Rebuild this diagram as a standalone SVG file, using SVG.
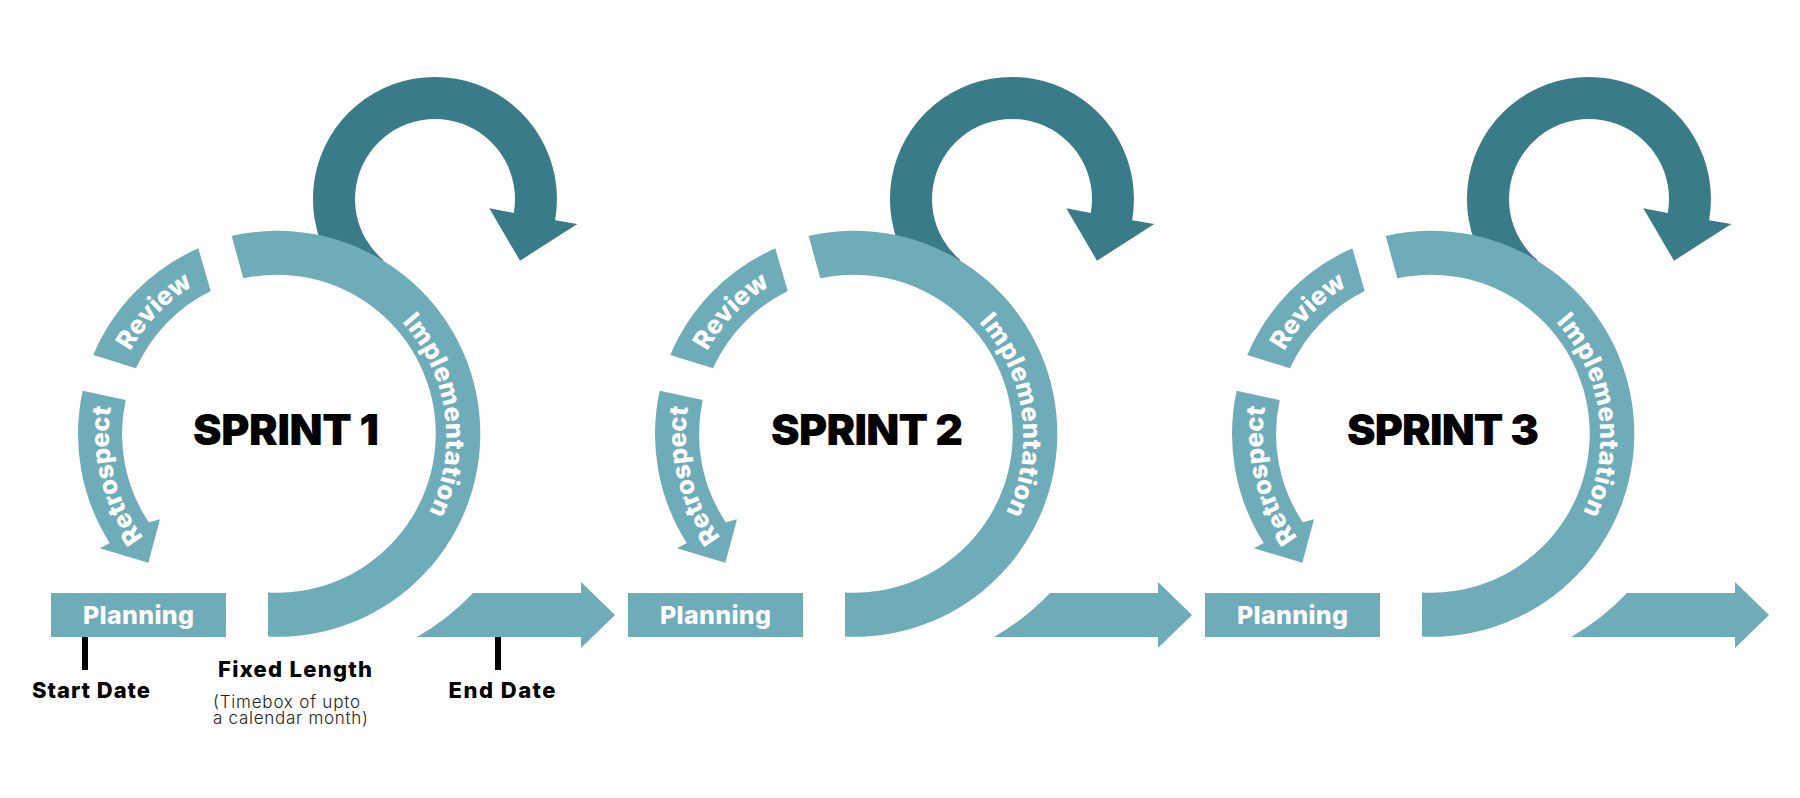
<svg xmlns="http://www.w3.org/2000/svg" xmlns:xlink="http://www.w3.org/1999/xlink" width="1800" height="798" viewBox="0 0 1800 798">
<style>
.light{fill:#6EACB9}
.dark{fill:#3A7B8A}
.lbl{font-family:Inter,"Liberation Sans",sans-serif;font-weight:800;fill:#fff}
.arc{font-size:25.5px;text-anchor:middle}
.plan{font-size:25px;text-anchor:middle}
.sprint{font-family:Inter,"Liberation Sans",sans-serif;font-weight:900;font-size:43px;fill:#000;text-anchor:middle}
.note{font-family:Inter,"Liberation Sans",sans-serif;font-weight:800;fill:#000;text-anchor:middle}
.sub{font-family:Inter,"Liberation Sans",sans-serif;font-weight:300;font-size:17px;fill:#222}
.tick{stroke:#000;stroke-width:6}
</style>
<defs>
<path id="impl-shape" d="M 231.7,236 A 203 203 0 1 1 268,636.6 L 268,592.5 A 159 159 0 1 0 243.3,278.3 Z"/>
<path id="review-shape" d="M 93.3,355 A 203 203 0 0 1 198.3,248.3 L 210.7,291 A 159 159 0 0 0 136,368.3 Z"/>
<path id="retro-shape" d="M 82.7,390.8 A 203 203 0 0 0 109.8,543.1 L 100,548.3 L 148.3,562.7 L 160,519.3 L 148.7,522.2 A 159 159 0 0 1 125.7,400.1 Z"/>
<path id="loop-shape" d="M 356.6,292.5 A 122 122 0 1 1 555.1,220.2 L 577.3,224 L 520,260.7 L 489.3,208.3 L 513.8,212.9 A 80 80 0 1 0 383.6,260.3 Z"/>
<path id="end-shape" d="M 417,637 A 246 246 0 0 0 473,593 L 581,593 L 581,582 L 615,615 L 581,648 L 581,637 Z"/>
<path id="impl-tp" d="M 311.6,269.6 A 172 172 0 0 1 356.4,588.6"/>
<path id="review-tp" d="M 114.1,392 A 172 172 0 0 1 233.6,268.7"/>
<path id="retro-tp" d="M 179.9,573.2 A 172 172 0 0 1 126.4,358.6"/>
</defs>

<g id="connectors">
  <use href="#loop-shape" class="dark"/>
  <use href="#end-shape" class="light"/>
  <use href="#loop-shape" class="dark" transform="translate(577,0)"/>
  <use href="#end-shape" class="light" transform="translate(577,0)"/>
  <use href="#loop-shape" class="dark" transform="translate(1154,0)"/>
  <use href="#end-shape" class="light" transform="translate(1154,0)"/>
</g>

<g id="sprint1">
  <g id="s1-implementation">
    <use href="#impl-shape" class="light"/>
    <text class="lbl arc" textLength="204"><textPath href="#impl-tp" startOffset="50%">Implementation</textPath></text>
  </g>
  <g id="s1-review">
    <use href="#review-shape" class="light"/>
    <text class="lbl arc" textLength="92"><textPath href="#review-tp" startOffset="50%">Review</textPath></text>
  </g>
  <g id="s1-retrospect">
    <use href="#retro-shape" class="light"/>
    <text class="lbl arc" textLength="138"><textPath href="#retro-tp" startOffset="50%">Retrospect</textPath></text>
  </g>
  <g id="s1-planning">
    <rect x="51" y="593" width="175" height="44" class="light"/>
    <text x="138.5" y="624" class="lbl plan" textLength="111">Planning</text>
  </g>
  <g id="s1-title">
    <text x="286" y="445" class="sprint" textLength="186">SPRINT 1</text>
  </g>
</g>

<g id="sprint2" transform="translate(577,0)">
  <g id="s2-implementation">
    <use href="#impl-shape" class="light"/>
    <text class="lbl arc" textLength="204"><textPath href="#impl-tp" startOffset="50%">Implementation</textPath></text>
  </g>
  <g id="s2-review">
    <use href="#review-shape" class="light"/>
    <text class="lbl arc" textLength="92"><textPath href="#review-tp" startOffset="50%">Review</textPath></text>
  </g>
  <g id="s2-retrospect">
    <use href="#retro-shape" class="light"/>
    <text class="lbl arc" textLength="138"><textPath href="#retro-tp" startOffset="50%">Retrospect</textPath></text>
  </g>
  <g id="s2-planning">
    <rect x="51" y="593" width="175" height="44" class="light"/>
    <text x="138.5" y="624" class="lbl plan" textLength="111">Planning</text>
  </g>
  <g id="s2-title">
    <text x="290" y="445" class="sprint" textLength="192">SPRINT 2</text>
  </g>
</g>

<g id="sprint3" transform="translate(1154,0)">
  <g id="s3-implementation">
    <use href="#impl-shape" class="light"/>
    <text class="lbl arc" textLength="204"><textPath href="#impl-tp" startOffset="50%">Implementation</textPath></text>
  </g>
  <g id="s3-review">
    <use href="#review-shape" class="light"/>
    <text class="lbl arc" textLength="92"><textPath href="#review-tp" startOffset="50%">Review</textPath></text>
  </g>
  <g id="s3-retrospect">
    <use href="#retro-shape" class="light"/>
    <text class="lbl arc" textLength="138"><textPath href="#retro-tp" startOffset="50%">Retrospect</textPath></text>
  </g>
  <g id="s3-planning">
    <rect x="51" y="593" width="175" height="44" class="light"/>
    <text x="138.5" y="624" class="lbl plan" textLength="111">Planning</text>
  </g>
  <g id="s3-title">
    <text x="289" y="445" class="sprint" textLength="192">SPRINT 3</text>
  </g>
</g>

<g id="timeline-labels">
  <g id="start-date">
    <line x1="85" y1="637" x2="85" y2="670" class="tick"/>
    <text x="91" y="698" class="note" font-size="22" textLength="118">Start Date</text>
  </g>
  <g id="fixed-length">
    <text x="295" y="677" class="note" font-size="22" textLength="154">Fixed Length</text>
    <text x="213" y="708" class="sub" textLength="147">(Timebox of upto</text>
    <text x="213" y="724" class="sub" textLength="155">a calendar month)</text>
  </g>
  <g id="end-date">
    <line x1="498" y1="637" x2="498" y2="670" class="tick"/>
    <text x="502" y="698" class="note" font-size="22" textLength="107">End Date</text>
  </g>
</g>
</svg>
